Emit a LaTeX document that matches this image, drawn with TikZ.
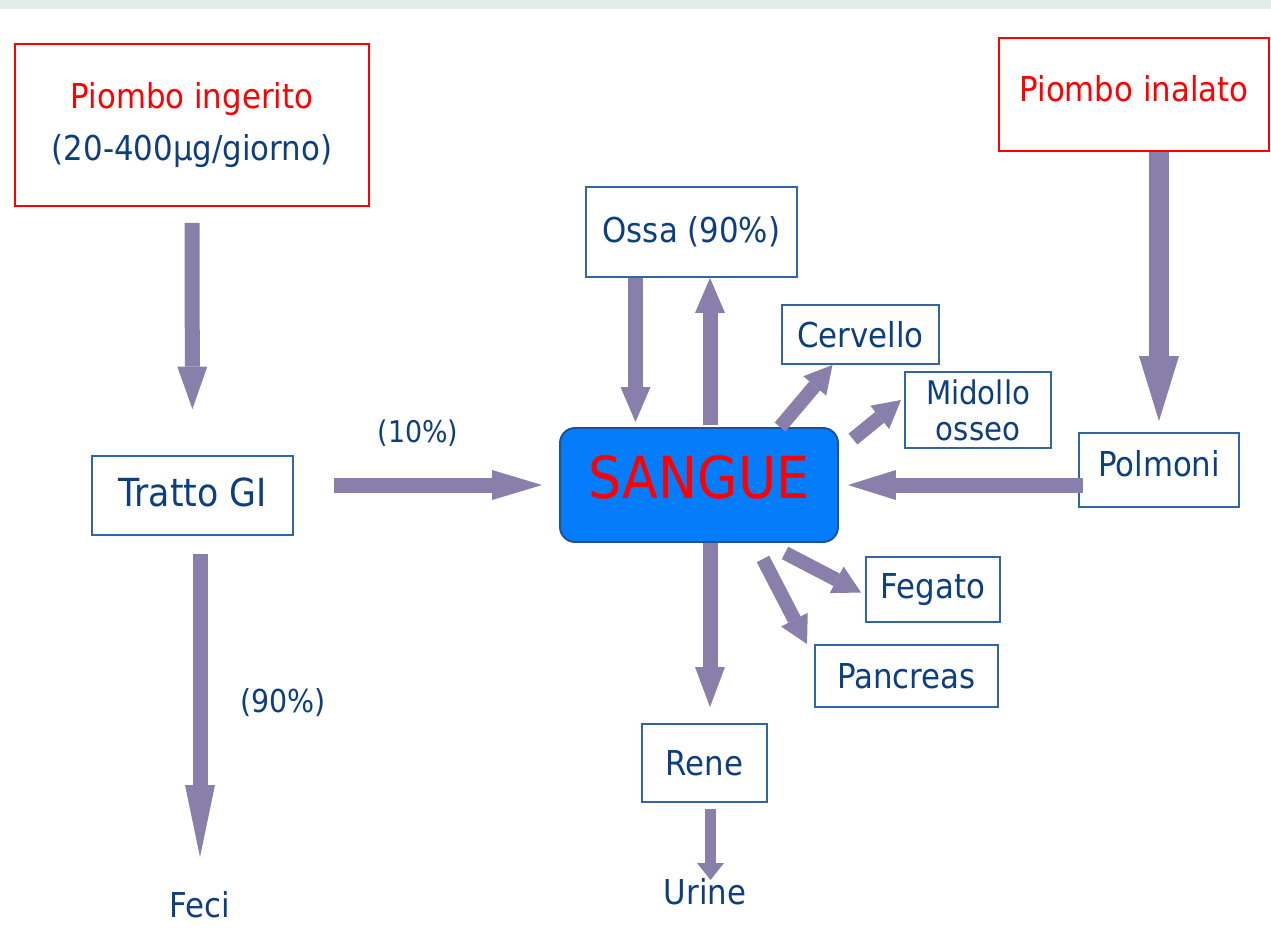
\documentclass[tikz,border=0pt]{standalone}
\usepackage{fontspec}
\setmainfont{DejaVu Sans}[FakeStretch=0.9]
\usetikzlibrary{positioning,calc,arrows.meta}
\definecolor{txtblue}{RGB}{12,62,128}
\definecolor{boxblue}{RGB}{48,102,165}
\definecolor{flowcol}{RGB}{136,127,170}
\definecolor{sanguefill}{RGB}{5,125,250}
\definecolor{sangueline}{RGB}{30,80,160}
\definecolor{bandcol}{RGB}{226,237,235}
\tikzset{
	flow/.style={draw=flowcol,line width=0.3cm,-{Triangle[width=0.6cm,length=#1,line width=0pt]}},
	flow/.default=0.7cm,
	diag/.style={flow=0.55cm,line width=0.28cm}}

\begin{document}
\begin{tikzpicture}[x=0.02cm,y=-0.02cm,
	box/.style={draw=boxblue,line width=1.1pt,rectangle,inner sep=0pt,text=txtblue,align=center,font=\fontsize{19.5}{24}\selectfont},
	redbox/.style={box,draw=red},
	lbl/.style={inner sep=0pt,text=txtblue,font=\fontsize{19.5}{24}\selectfont}]
	\useasboundingbox (0,0) rectangle (1271,936);
	\fill[bandcol] (0,0) rectangle (1271,9);

	% sources
	\node (ing) [redbox,minimum width=7.08cm,minimum height=3.24cm,font=\fontsize{19.5}{30}\selectfont] at (192,125)
		{\textcolor{red}{Piombo ingerito}\\(20-400μg/giorno)};
	\node (inalato) [redbox,text=red,minimum width=5.4cm,minimum height=2.26cm,text depth=0.24cm] at (1134,94.5) {Piombo inalato};

	% organs
	\node (tratto) [box,minimum width=4.02cm,minimum height=1.58cm,text depth=0.14cm,font=\fontsize{22}{26}\selectfont] at (192.5,495.5) {Tratto GI};
	\node (sangue) [draw=sangueline,line width=1.1pt,fill=sanguefill,rounded corners=0.3cm,text=red,
		minimum width=5.56cm,minimum height=2.28cm,text depth=0.32cm,font=\fontsize{33}{38}\selectfont] at (699,485) {SANGUE};
	\node (ossa) [box,minimum width=4.22cm,minimum height=1.8cm] at (691.5,232) {Ossa (90\%)};
	\node (cerv) [box,minimum width=3.14cm,minimum height=1.18cm] at (860.5,334.5) {Cervello};
	\node (mid) [box,minimum width=2.92cm,minimum height=1.52cm,font=\fontsize{18.5}{20.5}\selectfont] at (978,410) {Midollo\\osseo};
	\node (polm) [box,minimum width=3.2cm,minimum height=1.48cm,text depth=0.28cm] at (1159,470) {Polmoni};
	\node (feg) [box,minimum width=2.68cm,minimum height=1.3cm] at (933,589.5) {Fegato};
	\node (panc) [box,minimum width=3.66cm,minimum height=1.24cm] at (906.5,676) {Pancreas};
	\node (rene) [box,minimum width=2.5cm,minimum height=1.56cm] at (704.5,763) {Rene};

	% outputs and labels
	\node (feci) [lbl] at (200,905) {Feci};
	\node (urine) [lbl] at (705,892) {Urine};
	\node (pct10) [lbl,font=\fontsize{17}{20}\selectfont] at (418,433) {(10\%)};
	\node (pct90) [lbl,font=\fontsize{18}{21}\selectfont] at (283,703) {(90\%)};

	\draw[flow=0.85cm,shorten <=0.32cm,shorten >=0.92cm] (ing.south) -- (tratto.north);
	\draw[flow=1.44cm,shorten <=0.36cm,shorten >=0.96cm] (tratto.south -| feci.center) -- (feci.center);
	\draw[flow=1.0cm,shorten <=0.8cm,shorten >=0.34cm] (tratto.east |- sangue.west) -- (sangue.west);
	\draw[flow,line width=0.4cm,-{Triangle[width=0.8cm,length=1.3cm,line width=0pt]},shorten >=0.22cm] (inalato.south -| polm) -- (polm.north);
	\draw[flow=0.96cm,shorten <=-0.1cm,shorten >=0.18cm] (polm.west |- sangue.east) -- (sangue.east);
	\draw[flow] ($(ossa.south)+(-56,0)$) -- ($(ossa.south |- sangue.north)+(-56,-5)$);
	\draw[flow] ($(sangue.north)+(11,-2)$) -- ($(sangue.north |- ossa.south)+(11,0)$);
	\draw[diag] ($(sangue.north)+(81,0)$) -- ($(cerv.south)+(-28,0)$);
	\draw[diag] ($(sangue.north east)+(14,12)$) -- ($(mid.west)+(-3,-10)$);
	\draw[diag] ($(sangue.south)+(86,10)$) -- ($(feg.west)+(-4,3)$);
	\draw[diag] ($(sangue.south)+(64,16)$) -- ($(panc.north west)+(-7,0)$);
	\draw[flow=0.8cm,shorten >=0.32cm] ($(sangue.south)+(11,0)$) -- ($(sangue.south |- rene.north)+(11,0)$);
	\draw[flow,line width=0.22cm,-{Triangle[width=0.54cm,length=0.34cm,line width=0pt]},shorten <=0.12cm,shorten >=0.24cm]
		($(rene.south)+(6,0)$) -- ($(rene.south |- urine)+(6,0)$);
\end{tikzpicture}
\end{document}
